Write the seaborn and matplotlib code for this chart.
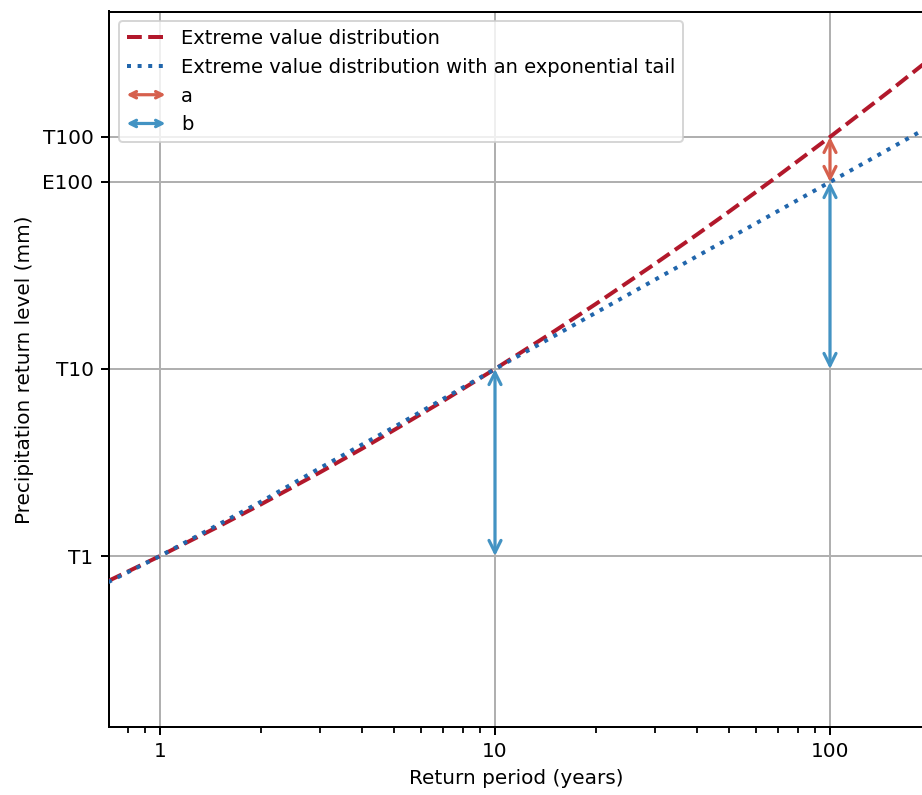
import matplotlib
matplotlib.use("Agg")
import matplotlib.pyplot as plt
import seaborn as sns
import numpy as np
import pandas as pd
from matplotlib.patches import FancyArrowPatch
from matplotlib.legend_handler import HandlerPatch
from matplotlib.ticker import NullFormatter

# ---------------- data ----------------
return_period = [0.7, 1, 1.5, 2, 3, 4, 5, 7, 10, 15, 20, 30, 40, 50, 70, 100, 150, 190]
gev_level = [0.866, 1.0, 1.159, 1.276, 1.447, 1.573, 1.674, 1.829, 2.0, 2.201, 2.348,
             2.562, 2.718, 2.842, 3.033, 3.241, 3.484, 3.630]
exp_tail_level = [0.86, 1.0, 1.17, 1.29, 1.47, 1.595, 1.69, 1.84, 2.0, 2.176, 2.301,
                  2.477, 2.602, 2.699, 2.845, 3.0, 3.176, 3.279]

ytick_values = [1.0, 2.0, 3.0, 3.241]
ytick_labels = ["T1", "T10", "E100", "T100"]
xtick_values = [1, 10, 100]
xtick_labels = ["1", "10", "100"]

arrow_a = [(100, 3.0, 3.241)]
arrow_b = [(10, 1.0, 2.0), (100, 2.0, 3.0)]

series_labels = ["Extreme value distribution",
                 "Extreme value distribution with an exponential tail"]
arrow_labels = ["a", "b"]

# ---------------- style ----------------
red_line = "#b2182b"
blue_line = "#2166ac"
red_arrow = "#d6604d"
blue_arrow = "#4393c3"

plt.rcParams["font.family"] = ["DejaVu Sans"]
FS = 10
LFS = 9.75

DPI = 144
fig = plt.figure(figsize=(922 / DPI, 795 / DPI), dpi=DPI)
W, H = 922, 795
left_px, right_px, top_px, bottom_px = 109, 923, 11.5, 727
ax = fig.add_axes([left_px / W, (H - bottom_px) / H,
                   (right_px - left_px) / W, (bottom_px - top_px) / H])

df = pd.DataFrame({"T": return_period, "gev": gev_level, "exp": exp_tail_level})

sns.lineplot(data=df, x="T", y="gev", ax=ax, color=red_line, linestyle="--",
             linewidth=2, label=series_labels[0], zorder=3)
sns.lineplot(data=df, x="T", y="exp", ax=ax, color=blue_line, linestyle=":",
             linewidth=2, label=series_labels[1], zorder=3)

ax.set_xscale("log")
dec = 335.0
ax.set_xlim(10 ** ((left_px - 160) / dec), 10 ** ((right_px - 160) / dec))
pxu = 187.0
ax.set_ylim(1 - (bottom_px - 556) / pxu, 1 + (556 - top_px) / pxu)

ax.set_xticks(xtick_values, labels=xtick_labels)
ax.xaxis.set_minor_formatter(NullFormatter())
ax.set_yticks(ytick_values, labels=ytick_labels)
ax.tick_params(axis="both", which="major", length=4.2, width=1.0, labelsize=FS,
               colors="black")
ax.tick_params(axis="x", which="minor", length=2.8, width=0.9)
ax.grid(True, which="major", color="#b0b0b0", linewidth=1.0)
ax.set_axisbelow(True)

for sp in ax.spines.values():
    sp.set_visible(True)
    sp.set_color("black")
    sp.set_linewidth(1.0)

ax.set_xlabel("Return period (years)", fontsize=FS, color="black")
ax.set_ylabel("Precipitation return level (mm)", fontsize=FS, color="black")


def draw_arrow(x, y0, y1, color):
    p = FancyArrowPatch((x, y0), (x, y1), arrowstyle="<->", mutation_scale=15,
                        color=color, linewidth=1.6, shrinkA=0, shrinkB=0, zorder=4)
    ax.add_patch(p)
    return p


ha = None
for x, y0, y1 in arrow_a:
    ha = draw_arrow(x, y0, y1, red_arrow)
hb = None
for x, y0, y1 in arrow_b:
    hb = draw_arrow(x, y0, y1, blue_arrow)


def make_arrow(legend, orig_handle, xdescent, ydescent, width, height, fontsize):
    return FancyArrowPatch((-xdescent, height / 2 - ydescent),
                           (width - xdescent, height / 2 - ydescent),
                           arrowstyle="<->", mutation_scale=8, shrinkA=0, shrinkB=0)


line_handles, line_labels = ax.get_legend_handles_labels()
handles = line_handles + [ha, hb]
labels = line_labels + arrow_labels
leg = ax.legend(handles, labels, loc="upper left", fontsize=LFS,
                handler_map={FancyArrowPatch: HandlerPatch(patch_func=make_arrow)})
for t in leg.get_texts():
    t.set_color("black")

fig.savefig("out.png", dpi=DPI)
